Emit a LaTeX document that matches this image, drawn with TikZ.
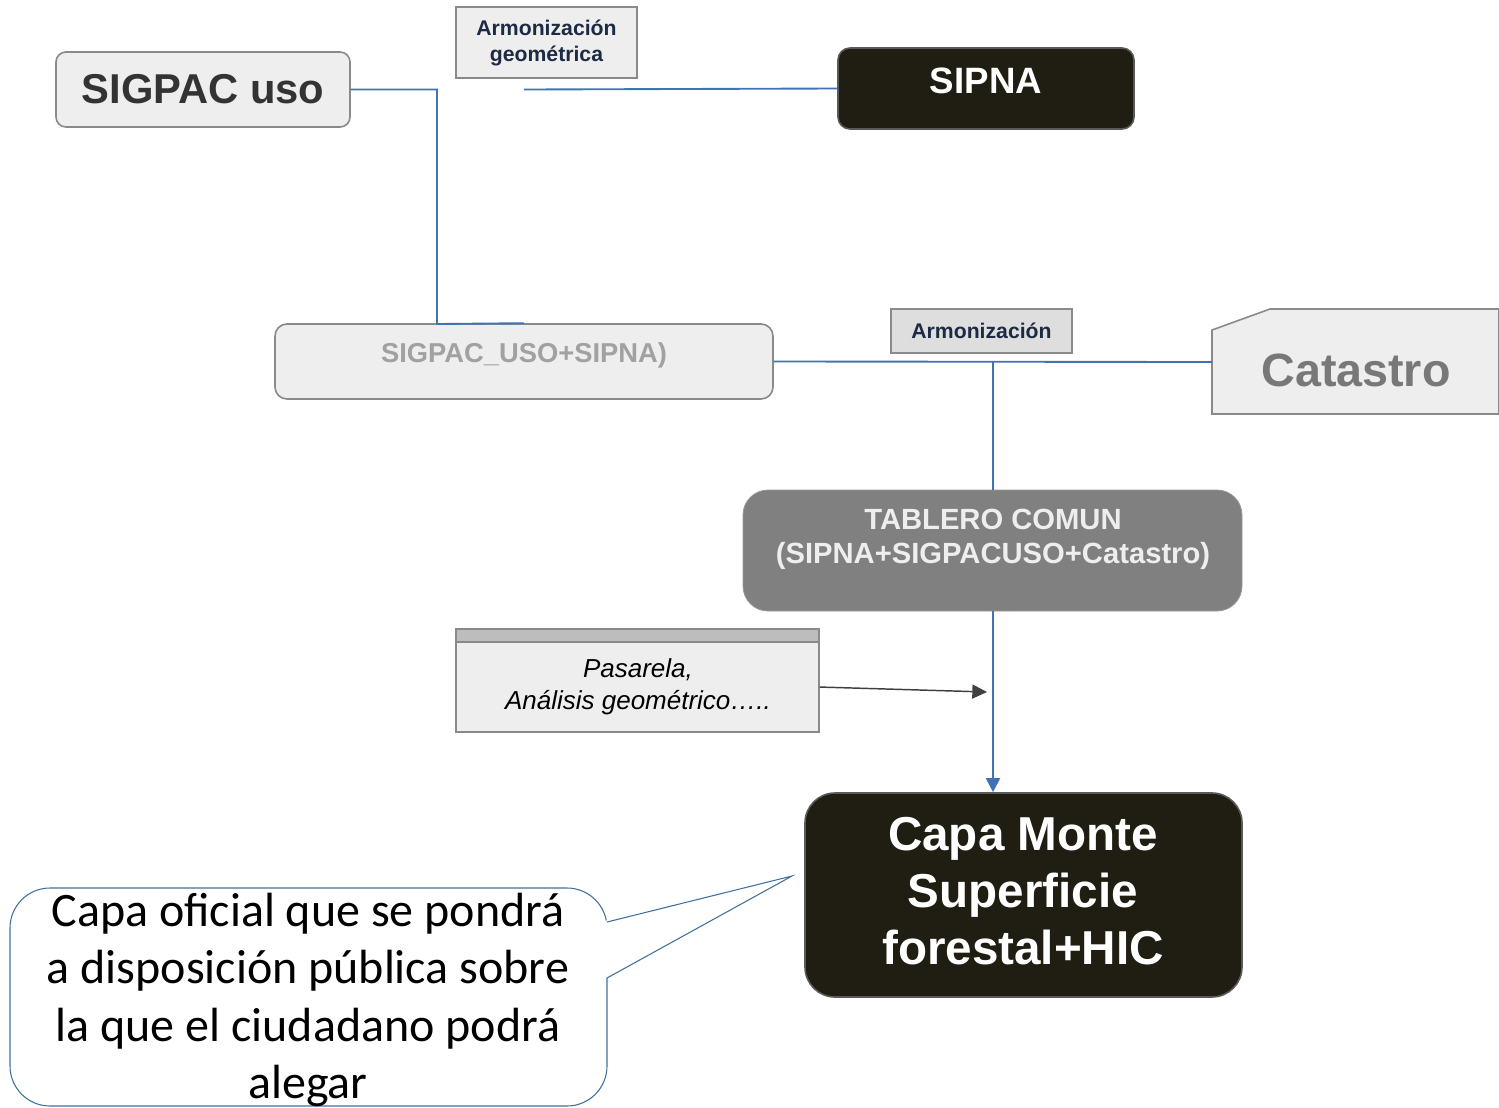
\documentclass[tikz,border=0pt]{standalone}
\usepackage{fontspec}
\setmainfont{Liberation Sans}
\newfontfamily\calloutfont{Carlito}
\usetikzlibrary{arrows.meta}
\definecolor{boxfill}{HTML}{EEEEEE}
\definecolor{boxline}{HTML}{8A8A8A}
\definecolor{darkfill}{HTML}{201D12}
\definecolor{darkline}{HTML}{5A5A5A}
\definecolor{midgray}{HTML}{808080}
\definecolor{conblue}{HTML}{4172B8}
\definecolor{navy}{HTML}{1C2A44}
\definecolor{stripgray}{HTML}{BDBDBD}
\definecolor{calloutline}{HTML}{41719C}
\tikzset{
  lightbox/.style={draw=boxline, fill=boxfill, line width=1.2pt, inner sep=0pt},
  darkbox/.style={draw=darkline, fill=darkfill, line width=1.2pt, inner sep=0pt},
  tagbox/.style={draw=boxline, line width=1.2pt, inner sep=0pt, font=\bfseries\fontsize{15.9}{19}\selectfont, text=navy, align=center},
  conn/.style={draw=conblue, line width=1.4pt},
  lbl/.style={inner sep=0pt, align=center},
}
\begin{document}
\begin{tikzpicture}[x=0.75pt,y=-0.75pt]
\useasboundingbox (0,0) rectangle (1499,1107);
\fill[white] (0,0) rectangle (1499,1107);

% SIGPAC uso
\node[lightbox, rounded corners=7.5pt, minimum width=220.5pt, minimum height=56.25pt,
  text=black!80, font=\bfseries\fontsize{31.3}{36}\selectfont] (su) at (203,89.5) {SIGPAC uso};

% Armonizacion geometrica
\node[tagbox, fill=boxfill, minimum width=135.75pt, minimum height=53.25pt] (ag) at (546.5,42.5)
  {Armonización\\[0.5pt]geométrica};

% SIPNA
\node[darkbox, rounded corners=9pt, minimum width=222pt, minimum height=60.75pt] (sipna) at (986,88.5) {};
\node[lbl, text=white, font=\bfseries\fontsize{27.5}{32}\selectfont] (sipnat) at (986,81) {SIPNA};

% SIGPAC_USO+SIPNA
\node[lightbox, rounded corners=9pt, minimum width=373.5pt, minimum height=56.25pt] (suso) at (524,361.5) {};
\node[lbl, text=black!37, font=\bfseries\fontsize{20.5}{24}\selectfont] (susot) at (524,355) {SIGPAC\_USO+SIPNA)};

% Armonizacion
\node[tagbox, fill=black!13, minimum width=135.75pt, minimum height=33pt] (arm) at (981.5,331) {Armonización};

% Catastro
\filldraw[draw=boxline, fill=boxfill, line width=1.2pt]
  (1212,330) -- (1270,309) -- (1499,309) -- (1499,414) -- (1212,414) -- cycle;
\node[lbl, text=black!53, font=\bfseries\fontsize{35}{40}\selectfont] (catt) at (1356,370) {Catastro};
\coordinate (cat) at (1212,362);

% TABLERO COMUN
\node[fill=midgray, draw=black!40, line width=0.6pt, rounded corners=18.75pt, minimum width=374.25pt, minimum height=90.75pt] (tab) at (992.5,550.5) {};
\node[lbl, text=boxfill, font=\bfseries\fontsize{21.9}{25.5}\selectfont] (tabt) at (993,539)
  {TABLERO COMUN\\(SIPNA+SIGPACUSO+Catastro)};

% Pasarela
\node[lightbox, minimum width=272.25pt, minimum height=77.25pt] (pas) at (637.5,680.5) {};
\filldraw[draw=boxline, fill=stripgray, line width=1.2pt] (456,629) rectangle (819,642);
\node[lbl, font=\itshape\fontsize{19.5}{24}\selectfont] (past) at (638,687)
  {Pasarela,\\Análisis geométrico…..};

% Capa Monte
\node[darkbox, rounded corners=22.5pt, minimum width=327.75pt, minimum height=153pt] (capa) at (1023.5,895) {};
\node[lbl, text=white, font=\bfseries\fontsize{35.7}{42.75}\selectfont] (capat) at (1023,891)
  {Capa Monte\\Superficie\\forestal+HIC};

% Callout
\filldraw[draw=calloutline, fill=white, line width=0.8pt, rounded corners=30pt] (10,888) rectangle (607,1106);
\fill[white] (604,921) -- (792,876) -- (604,979) -- cycle;
\draw[draw=calloutline, line width=0.8pt] (607,922) -- (792,876) -- (607,978);
\node[lbl, font=\calloutfont\fontsize{36}{43.1}\selectfont] (callt) at (308,1000)
  {Capa oficial que se pondrá\\a disposición pública sobre\\la que el ciudadano podrá\\alegar};

% Connectors
\coordinate (sfree) at (524,89.5);
\coordinate (j) at (993,362);
\coordinate (atip) at (987,692);
\draw[conn] (su.east) -- (437,89.5) -- (437,324) -- (suso.north);
\draw[conn] (sipna.west) -- (sfree);
\draw[conn] (suso.east) -- (cat);
\draw[conn] (j) -- (tab.north -| j);
\draw[conn, -{Triangle[width=10.5pt,length=10.5pt]}, fill=conblue] (tab.south -| j) -- (capa.north -| j);
\draw[draw=black!75, line width=1.1pt, -{Triangle[width=10.5pt,length=11pt]}, fill=black!75] ([yshift=-4.9pt]pas.east) -- (atip);
\end{tikzpicture}
\end{document}
